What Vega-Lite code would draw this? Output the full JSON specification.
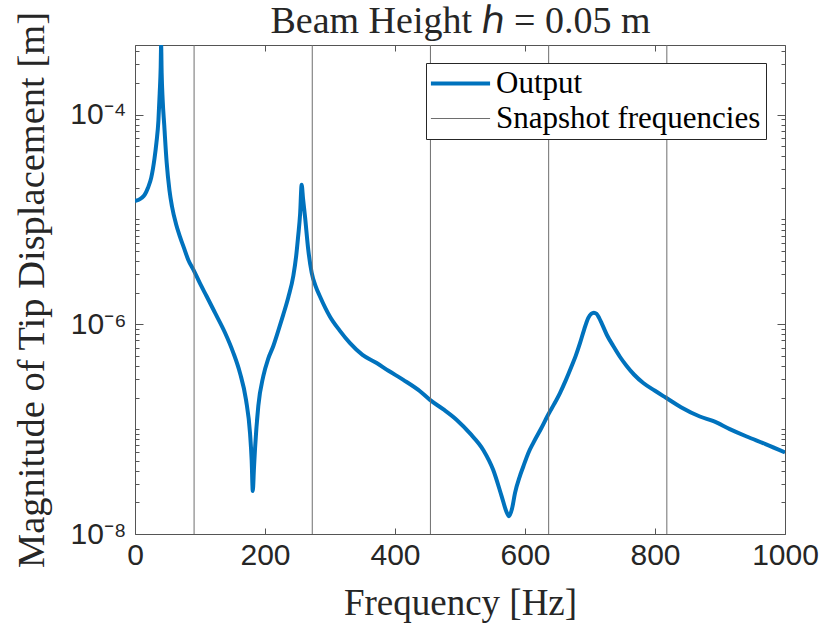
{
  "$schema": "https://vega.github.io/schema/vega-lite/v6.json",
  "width": 650,
  "height": 489,
  "autosize": {"type": "none"},
  "padding": {"left": 135, "top": 45, "right": 48, "bottom": 94},
  "background": "white",
  "config": {
    "view": {"stroke": "#555555", "strokeWidth": 1},
    "axis": {
      "grid": false,
      "domain": false,
      "labelFont": "Liberation Sans",
      "labelFontSize": 30,
      "labelColor": "#262626",
      "labelFlush": false,
      "tickColor": "#555555",
      "tickWidth": 1,
      "titleFont": "Liberation Serif",
      "titleFontSize": 37,
      "titleFontWeight": "normal",
      "titleColor": "#262626"
    }
  },
  "datasets": {
    "response": [
      {"f": 0, "mag": 1.50e-5},
      {"f": 5, "mag": 1.53e-5},
      {"f": 10, "mag": 1.60e-5},
      {"f": 15, "mag": 1.72e-5},
      {"f": 20, "mag": 2.0e-5},
      {"f": 25, "mag": 2.5e-5},
      {"f": 30, "mag": 3.8e-5},
      {"f": 33, "mag": 5.4e-5},
      {"f": 36, "mag": 8.7e-5},
      {"f": 38, "mag": 1.6e-4},
      {"f": 39.5, "mag": 2.8e-4},
      {"f": 40.2, "mag": 4.6e-4},
      {"f": 41, "mag": 2.5e-4},
      {"f": 42.5, "mag": 1.4e-4},
      {"f": 45, "mag": 7.9e-5},
      {"f": 48.7, "mag": 3.5e-5},
      {"f": 53, "mag": 1.9e-5},
      {"f": 57, "mag": 1.32e-5},
      {"f": 63, "mag": 9.1e-6},
      {"f": 69, "mag": 6.9e-6},
      {"f": 76, "mag": 5.2e-6},
      {"f": 82, "mag": 4.1e-6},
      {"f": 90, "mag": 3.3e-6},
      {"f": 100, "mag": 2.45e-6},
      {"f": 110, "mag": 1.86e-6},
      {"f": 123, "mag": 1.29e-6},
      {"f": 138.5, "mag": 8.3e-7},
      {"f": 151, "mag": 5.4e-7},
      {"f": 161.5, "mag": 3.43e-7},
      {"f": 170.8, "mag": 1.9e-7},
      {"f": 177, "mag": 9.1e-8},
      {"f": 179.5, "mag": 5.0e-8},
      {"f": 181.2, "mag": 2.57e-8},
      {"f": 183, "mag": 4.2e-8},
      {"f": 184.6, "mag": 6.4e-8},
      {"f": 189.7, "mag": 1.66e-7},
      {"f": 197.4, "mag": 3.2e-7},
      {"f": 205, "mag": 4.7e-7},
      {"f": 212.8, "mag": 6.2e-7},
      {"f": 220, "mag": 8.5e-7},
      {"f": 228, "mag": 1.23e-6},
      {"f": 236, "mag": 1.82e-6},
      {"f": 243.6, "mag": 2.9e-6},
      {"f": 248, "mag": 4.5e-6},
      {"f": 251, "mag": 6.9e-6},
      {"f": 254, "mag": 1.12e-5},
      {"f": 256.4, "mag": 2.14e-5},
      {"f": 258.5, "mag": 1.58e-5},
      {"f": 261.5, "mag": 1.07e-5},
      {"f": 266.6, "mag": 5.1e-6},
      {"f": 271.8, "mag": 3.1e-6},
      {"f": 278, "mag": 2.3e-6},
      {"f": 284.6, "mag": 1.84e-6},
      {"f": 300, "mag": 1.18e-6},
      {"f": 315, "mag": 8.7e-7},
      {"f": 330.8, "mag": 6.6e-7},
      {"f": 350, "mag": 5.1e-7},
      {"f": 371.8, "mag": 4.27e-7},
      {"f": 390, "mag": 3.6e-7},
      {"f": 412.8, "mag": 2.95e-7},
      {"f": 438.5, "mag": 2.3e-7},
      {"f": 453.8, "mag": 1.9e-7},
      {"f": 474, "mag": 1.55e-7},
      {"f": 494.6, "mag": 1.23e-7},
      {"f": 515.4, "mag": 9.1e-8},
      {"f": 536, "mag": 6.3e-8},
      {"f": 551, "mag": 4.1e-8},
      {"f": 564, "mag": 2.3e-8},
      {"f": 571, "mag": 1.66e-8},
      {"f": 575.5, "mag": 1.48e-8},
      {"f": 580, "mag": 1.74e-8},
      {"f": 584.6, "mag": 2.45e-8},
      {"f": 592, "mag": 3.55e-8},
      {"f": 597.4, "mag": 4.4e-8},
      {"f": 605, "mag": 5.9e-8},
      {"f": 612.8, "mag": 7.4e-8},
      {"f": 625, "mag": 1.02e-7},
      {"f": 635.8, "mag": 1.38e-7},
      {"f": 645, "mag": 1.74e-7},
      {"f": 653.8, "mag": 2.21e-7},
      {"f": 663, "mag": 2.95e-7},
      {"f": 671.8, "mag": 4.0e-7},
      {"f": 678, "mag": 5.0e-7},
      {"f": 684.6, "mag": 6.6e-7},
      {"f": 691, "mag": 8.9e-7},
      {"f": 697.4, "mag": 1.15e-6},
      {"f": 702, "mag": 1.26e-6},
      {"f": 706, "mag": 1.29e-6},
      {"f": 710, "mag": 1.26e-6},
      {"f": 714, "mag": 1.15e-6},
      {"f": 718, "mag": 1.02e-6},
      {"f": 726, "mag": 7.9e-7},
      {"f": 735.8, "mag": 6.2e-7},
      {"f": 746, "mag": 4.9e-7},
      {"f": 756.4, "mag": 4.0e-7},
      {"f": 768, "mag": 3.3e-7},
      {"f": 782, "mag": 2.75e-7},
      {"f": 800, "mag": 2.32e-7},
      {"f": 816.4, "mag": 2.0e-7},
      {"f": 840, "mag": 1.62e-7},
      {"f": 869, "mag": 1.32e-7},
      {"f": 890, "mag": 1.19e-7},
      {"f": 915, "mag": 1.0e-7},
      {"f": 941, "mag": 8.5e-8},
      {"f": 970, "mag": 7.2e-8},
      {"f": 1000, "mag": 6.0e-8}
    ],
    "snapshots": [
      {"f": 90.9},
      {"f": 272.7},
      {"f": 454.5},
      {"f": 636.4},
      {"f": 818.2}
    ]
  },
  "layer": [
    {
      "data": {"name": "response"},
      "mark": {"type": "line", "strokeWidth": 4, "clip": true, "interpolate": "monotone"},
      "encoding": {
        "x": {
          "field": "f",
          "type": "quantitative",
          "scale": {"domain": [0, 1000], "nice": false, "zero": false},
          "axis": {
            "orient": "bottom",
            "values": [0, 200, 400, 600, 800, 1000],
            "format": "d",
            "tickSize": -6,
            "labelPadding": 12,
            "title": "Frequency [Hz]",
            "titleY": 80,
            "titleBaseline": "alphabetic"
          }
        },
        "y": {
          "field": "mag",
          "type": "quantitative",
          "scale": {"type": "log", "domain": [1e-8, 4.6e-4], "nice": false},
          "axis": {
            "orient": "left",
            "values": [1e-8, 2e-8, 3e-8, 4e-8, 5e-8, 6e-8, 7e-8, 8e-8, 9e-8, 1e-7, 2e-7, 3e-7, 4e-7, 5e-7, 6e-7, 7e-7, 8e-7, 9e-7, 1e-6, 2e-6, 3e-6, 4e-6, 5e-6, 6e-6, 7e-6, 8e-6, 9e-6, 1e-5, 2e-5, 3e-5, 4e-5, 5e-5, 6e-5, 7e-5, 8e-5, 9e-5, 1e-4, 2e-4, 3e-4, 4e-4],
            "tickSize": {"condition": {"test": "datum.value == 0.00000001 || datum.value == 0.000001 || datum.value == 0.0001", "value": -8}, "value": -4},
            "labelExpr": "datum.value == 0.00000001 ? '10⁻⁸' : datum.value == 0.000001 ? '10⁻⁶' : datum.value == 0.0001 ? '10⁻⁴' : ''",
            "labelPadding": 17,
            "labelOverlap": false,
            "title": "Magnitude of Tip Displacement [m]",
            "titleFontSize": 38.5,
            "titleX": -92,
            "titleBaseline": "alphabetic"
          }
        },
        "color": {
          "datum": "Output",
          "scale": {"domain": ["Output", "Snapshot frequencies"], "range": ["#0072BD", "#6e6e6e"]},
          "legend": {
            "title": null,
            "orient": "none",
            "legendX": 291,
            "legendY": 18,
            "symbolType": "stroke",
            "symbolSize": 3500,
            "symbolStrokeWidth": 4,
            "symbolOffset": 14,
            "labelFont": "Liberation Serif",
            "labelFontSize": 31,
            "labelColor": "#000000",
            "labelLimit": 400,
            "labelOffset": 20,
            "fillColor": "white",
            "strokeColor": "#262626",
            "padding": 5,
            "rowPadding": 3,
            "encode": {"symbols": {"update": {"strokeWidth": {"signal": "datum.value === 'Output' ? 4 : 1"}}}}
          }
        }
      }
    },
    {
      "data": {"name": "snapshots"},
      "mark": {"type": "rule", "strokeWidth": 1},
      "encoding": {
        "x": {
          "field": "f",
          "type": "quantitative",
          "axis": {
            "orient": "top",
            "values": [0, 200, 400, 600, 800, 1000],
            "tickSize": -6,
            "labels": false,
            "title": "Beam Height ℎ = 0.05 m",
            "titleFontSize": 38,
            "titleY": -13,
            "titleBaseline": "alphabetic"
          }
        },
        "color": {"datum": "Snapshot frequencies"}
      }
    },
    {
      "data": {"name": "response"},
      "mark": {"type": "point", "opacity": 0},
      "encoding": {
        "x": {"field": "f", "type": "quantitative", "axis": null},
        "y": {
          "field": "mag",
          "type": "quantitative",
          "axis": {
            "orient": "right",
            "values": [1e-8, 2e-8, 3e-8, 4e-8, 5e-8, 6e-8, 7e-8, 8e-8, 9e-8, 1e-7, 2e-7, 3e-7, 4e-7, 5e-7, 6e-7, 7e-7, 8e-7, 9e-7, 1e-6, 2e-6, 3e-6, 4e-6, 5e-6, 6e-6, 7e-6, 8e-6, 9e-6, 1e-5, 2e-5, 3e-5, 4e-5, 5e-5, 6e-5, 7e-5, 8e-5, 9e-5, 1e-4, 2e-4, 3e-4, 4e-4],
            "tickSize": {"condition": {"test": "datum.value == 0.00000001 || datum.value == 0.000001 || datum.value == 0.0001", "value": -8}, "value": -4},
            "labels": false,
            "title": null
          }
        }
      }
    }
  ],
  "resolve": {"axis": {"x": "independent", "y": "independent"}}
}
